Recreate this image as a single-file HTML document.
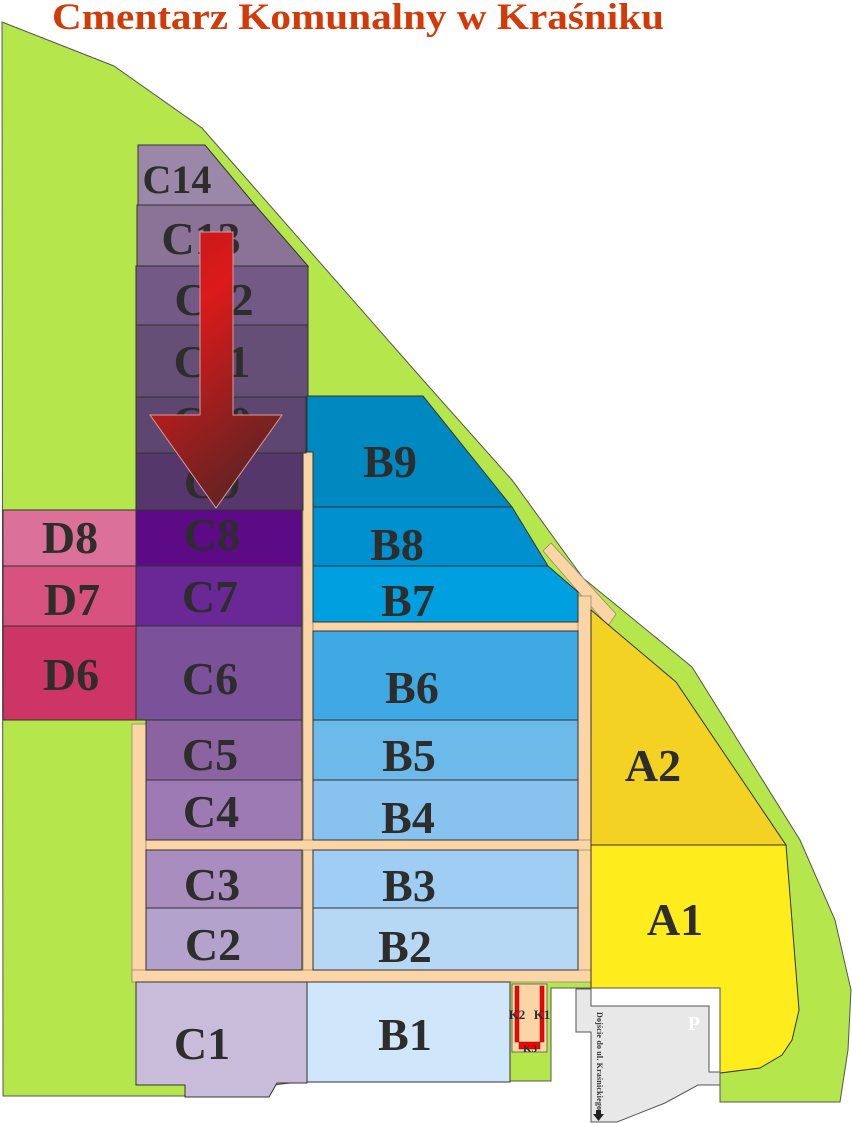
<!DOCTYPE html>
<html><head><meta charset="utf-8"><style>
html,body{margin:0;padding:0;background:#fff;}
svg{display:block;}
text{font-family:"Liberation Serif",serif;font-weight:bold;}
.l{font-size:46px;fill:#2d2d2b;text-anchor:middle;}
</style></head><body>
<svg width="852" height="1123" viewBox="0 0 852 1123" xmlns="http://www.w3.org/2000/svg">
<defs>
<linearGradient id="ar" x1="0" y1="0" x2="0.4" y2="1">
<stop offset="0" stop-color="#c01818"/><stop offset="0.35" stop-color="#dc1a1a"/><stop offset="1" stop-color="#6a2222"/>
</linearGradient>
</defs>
<text x="52" y="29" font-size="37" fill="#d23a08" textLength="612" lengthAdjust="spacingAndGlyphs">Cmentarz Komunalny w Kraśniku</text>
<polygon points="2,22 114,66 202,128 423,380 512,480 583,578 692,667 800,840 835,920 851,990 848,1050 840,1102 720,1102 720,988 551,988 551,1081 306,1081 185,1096 3,1096" fill="#b5e64b" stroke="#555" stroke-width="1"/>
<g fill="#fcd5a6" stroke="#9a8a70" stroke-width="0.8">
<polygon points="543,551 551,543 616,614 608,626"/>
<rect x="303" y="452" width="10" height="530"/>
<rect x="313" y="622" width="278" height="9"/>
<rect x="578" y="596" width="13" height="386"/>
<rect x="132" y="724" width="14" height="258"/>
<rect x="146" y="840" width="445" height="10"/>
<rect x="132" y="970" width="459" height="12"/>
</g>
<g stroke="#333" stroke-width="1">
<polygon points="138,145 205,145 255,205 138,205" fill="#9b88a8"/>
<polygon points="137,205 255,205 308,266 137,266" fill="#8a7396"/>
<rect x="136" y="266" width="172" height="59" fill="#735a86"/>
<rect x="136" y="325" width="172" height="72" fill="#654f77"/>
<rect x="136" y="397" width="170" height="56" fill="#5d466f"/>
<rect x="136" y="453" width="167" height="57" fill="#55376b"/>
<rect x="136" y="510" width="166" height="56" fill="#5c0a85"/>
<rect x="136" y="566" width="166" height="60" fill="#6a2896"/>
<rect x="136" y="626" width="166" height="94" fill="#7b5299"/>
<rect x="146" y="720" width="156" height="60" fill="#8a63a0"/>
<rect x="146" y="780" width="156" height="60" fill="#9d7ab4"/>
<rect x="146" y="850" width="156" height="58" fill="#a98dbe"/>
<rect x="146" y="908" width="156" height="62" fill="#b3a2cc"/>
<polygon points="136,982 307,982 307,1083 277,1083 269,1097 185,1097 185,1085 136,1085" fill="#c9bcdb"/>
<rect x="3" y="510" width="133" height="56" fill="#db7199"/>
<rect x="3" y="566" width="133" height="60" fill="#d7527e"/>
<rect x="3" y="626" width="133" height="94" fill="#cc3566"/>
<polygon points="307,396 423,396 512,507 313,507 313,452 307,452" fill="#0088c0"/>
<polygon points="313,507 512,507 548,566 313,566" fill="#0090d0"/>
<polygon points="313,566 548,566 578,592 578,622 313,622" fill="#009fe0"/>
<rect x="313" y="631" width="265" height="89" fill="#3fa9e4"/>
<rect x="313" y="720" width="265" height="60" fill="#6bbaea"/>
<rect x="313" y="780" width="265" height="60" fill="#88c3ef"/>
<rect x="313" y="850" width="265" height="58" fill="#9fcdf3"/>
<rect x="313" y="908" width="265" height="62" fill="#b6d8f5"/>
<rect x="307" y="982" width="203" height="100" fill="#d0e6fa"/>
<polygon points="591,610 612,628 676,682 786,845 591,845" fill="#f4d223"/>
<polygon points="591,845 786,845 799,1010 792,1040 782,1055 760,1068 720,1073 720,988 591,988" fill="#ffec1c"/>
</g>
<rect x="551" y="988" width="169" height="85" fill="#fff"/>
<polyline points="551,1081 551,988 720,988 720,1073" fill="none" stroke="#555" stroke-width="1"/>
<polygon points="576,989 591,989 591,1006 709,1006 709,1072 720,1072 720,1085 698,1085 665,1103 617,1122 591,1122 591,1032 576,1032" fill="#e8e8e8" stroke="#555" stroke-width="1"/>
<text x="694" y="1030" font-size="20" fill="#fff" text-anchor="middle">P</text>
<text transform="translate(597,1012) rotate(90)" font-size="8" fill="#333" font-weight="normal" textLength="98">Dojście do ul. Kraśnickiego</text>
<polygon points="596,1110 601,1110 601,1114 604,1114 598.5,1121 593,1114 596,1114" fill="#222"/>
<rect x="512" y="984" width="35" height="68" fill="#fcd5a6" stroke="#555" stroke-width="0.8"/>
<rect x="515" y="986" width="4" height="56" fill="#ff0000" stroke="#333" stroke-width="0.5"/>
<rect x="540" y="986" width="4" height="56" fill="#ff0000" stroke="#333" stroke-width="0.5"/>
<rect x="519" y="1042" width="21" height="7" fill="#ff0000" stroke="#333" stroke-width="0.5"/>
<text x="517" y="1019" font-size="13" fill="#2d2d2b" text-anchor="middle">K2</text>
<text x="542" y="1019" font-size="13" fill="#2d2d2b" text-anchor="middle">K1</text>
<text x="530" y="1052" font-size="11" fill="#2d2d2b" text-anchor="middle">K3</text>
<text class="l" x="177" y="193" style="font-size:40px">C14</text>
<text class="l" x="201" y="254">C13</text>
<text class="l" x="214" y="315">C12</text>
<text class="l" x="212" y="377">C11</text>
<text class="l" x="212" y="438">C10</text>
<text class="l" x="212" y="498">C9</text>
<text class="l" x="212" y="550">C8</text>
<text class="l" x="210" y="612">C7</text>
<text class="l" x="210" y="694">C6</text>
<text class="l" x="210" y="770">C5</text>
<text class="l" x="211" y="827">C4</text>
<text class="l" x="212" y="900">C3</text>
<text class="l" x="213" y="960">C2</text>
<text class="l" x="202" y="1059">C1</text>
<text class="l" x="70" y="553">D8</text>
<text class="l" x="72" y="615">D7</text>
<text class="l" x="71" y="690">D6</text>
<text class="l" x="390" y="477">B9</text>
<text class="l" x="397" y="560">B8</text>
<text class="l" x="408" y="616">B7</text>
<text class="l" x="412" y="703">B6</text>
<text class="l" x="409" y="771">B5</text>
<text class="l" x="408" y="833">B4</text>
<text class="l" x="409" y="901">B3</text>
<text class="l" x="405" y="962">B2</text>
<text class="l" x="405" y="1050">B1</text>
<text class="l" x="653" y="781">A2</text>
<text class="l" x="675" y="935">A1</text>
<polygon points="200,232 233,232 233,415 282,415 216,508 150,415 200,415" fill="url(#ar)" stroke="#d99" stroke-width="1"/>
</svg>
</body></html>
